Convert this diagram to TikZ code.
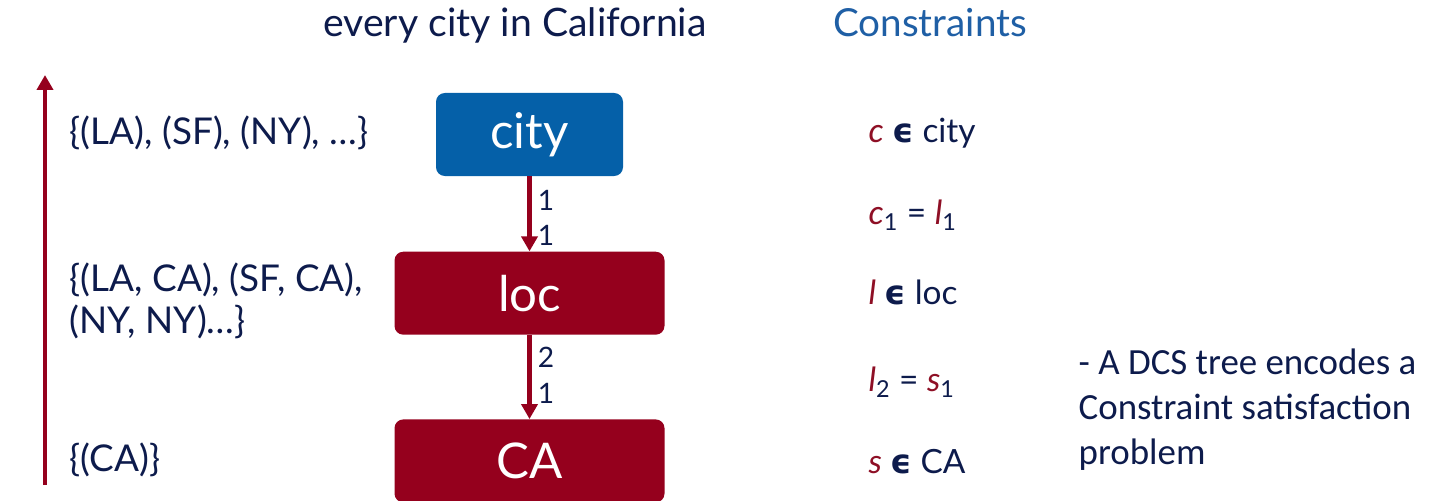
\documentclass[tikz,border=0pt]{standalone}
\usepackage{fontspec}
\setmainfont{Lato}
\newfontfamily\notefont{Carlito}
\newfontfamily\symfont{DejaVu Sans}
\usetikzlibrary{arrows.meta,positioning}

\definecolor{navy}{HTML}{0D1B4C}
\definecolor{boxblue}{HTML}{0560A8}
\definecolor{boxred}{HTML}{95001D}
\definecolor{headblue}{HTML}{1F5FA5}
\definecolor{varred}{HTML}{8E0F25}

\newcommand{\var}[1]{{\color{varred}\itshape #1}}
\newcommand{\memb}{{\symfont\bfseries ϵ}}

\begin{document}
\begin{tikzpicture}[>={Triangle[length=3mm,width=3.2mm]}, node distance=1.5cm,
		every node/.style={text=navy, font=\fontsize{18}{22}\selectfont},
		box/.style={fill=#1, rounded corners=5pt, minimum height=1.66cm, inner sep=0pt, text=white, font=\fontsize{28}{32}\selectfont},
		link/.style={->, boxred, line width=1mm},
		lbl/.style={right, font=\fontsize{16}{18}\selectfont},
		den/.style={anchor=west, align=left, font=\fontsize{21}{24}\selectfont},
		cons/.style={anchor=west, font=\fontsize{19}{23}\selectfont}]
		\useasboundingbox (0,0) rectangle (28.58,-10.02);
		% tree
		\node[box=boxblue, minimum width=3.74cm] (city) at (10.59,-2.69) {city};
		\node[box=boxred, minimum width=5.4cm] [below=1.5cm of city] (loc) {loc};
		\node[box=boxred, minimum width=5.4cm] [below=1.68cm of loc] (CA) {CA};
		\draw[link] (city) -- node[lbl, pos=.32] {1} node[lbl, pos=.79] {1} (loc);
		\draw[link] (loc) -- node[lbl, pos=.27] {2} node[lbl, pos=.7] {1} (CA);
		% headings
		\node[font=\fontsize{22.3}{26}\selectfont] (head) at (10.3,-0.5) {every city in California};
		\node[font=\fontsize{22}{26}\selectfont, text=headblue] (conshead) at (18.6,-0.46) {Constraints};
		% denotations, bottom up
		\coordinate (up0) at (0.9,-9.7);
		\coordinate (up1) at (0.9,-1.5);
		\draw[->, boxred, line width=0.8mm] (up0) -- (up1);
		\node[den] (den1) at (1.27,-2.66) {\{(LA), (SF), (NY), \ldots\}};
		\node[den] (den2) at (1.27,-6.02) {\{(LA, CA), (SF, CA),\\(NY, NY)\ldots\}};
		\node[den] (den3) at (1.27,-9.2) {\{(CA)\}};
		% constraints
		\node[cons] (c1) at (17.25,-2.66) {\var{c} \memb{} city};
		\node[cons] (c2) at (17.25,-4.3) {\var{c}\textsubscript{1} = \var{l}\textsubscript{1}};
		\node[cons] (c3) at (17.25,-5.84) {\var{l} \memb{} loc};
		\node[cons] (c4) at (17.25,-7.64) {\var{l}\textsubscript{2} = \var{s}\textsubscript{1}};
		\node[cons] (c5) at (17.25,-9.24) {\var{s} \memb{} CA};
		\node[anchor=west, align=left, font=\notefont\fontsize{21}{25.6}\selectfont] (note) at (21.45,-8.2) {- A DCS tree encodes a\\Constraint satisfaction\\problem};
	\end{tikzpicture}
\end{document}
